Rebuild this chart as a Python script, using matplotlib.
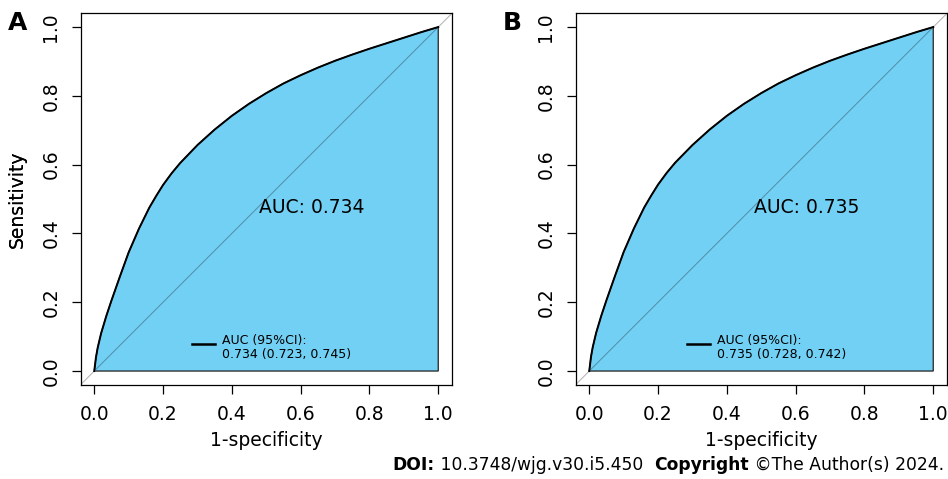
import numpy as np
import matplotlib
matplotlib.use("Agg")
import matplotlib.pyplot as plt

# ROC points (1-specificity, sensitivity)
fpr_a = [0, 0.005, 0.01, 0.02, 0.035, 0.05, 0.075, 0.10, 0.13, 0.16, 0.18, 0.20, 0.225, 0.25,
         0.30, 0.35, 0.40, 0.45, 0.50, 0.55, 0.60, 0.65, 0.70, 0.75, 0.80, 0.85, 0.90, 0.95, 1.0]
tpr_a = [0, 0.040, 0.068, 0.110, 0.160, 0.205, 0.276, 0.345, 0.414, 0.475, 0.509, 0.541, 0.575,
         0.605, 0.657, 0.702, 0.742, 0.777, 0.808, 0.836, 0.860, 0.882, 0.902, 0.920, 0.937,
         0.953, 0.969, 0.985, 1.0]

fpr_b = [0, 0.005, 0.01, 0.02, 0.035, 0.05, 0.075, 0.10, 0.13, 0.16, 0.18, 0.20, 0.225, 0.25,
         0.30, 0.35, 0.40, 0.45, 0.50, 0.55, 0.60, 0.65, 0.70, 0.75, 0.80, 0.85, 0.90, 0.95, 1.0]
tpr_b = [0, 0.041, 0.069, 0.111, 0.161, 0.206, 0.277, 0.346, 0.415, 0.476, 0.510, 0.542, 0.576,
         0.606, 0.657, 0.702, 0.742, 0.777, 0.808, 0.836, 0.860, 0.882, 0.902, 0.920, 0.937,
         0.953, 0.969, 0.985, 1.0]

panels = ["A", "B"]
auc_text = ["AUC: 0.734", "AUC: 0.735"]
ci_text = ["AUC (95%CI):\n0.734 (0.723, 0.745)", "AUC (95%CI):\n0.735 (0.728, 0.742)"]
ticks = [0.0, 0.2, 0.4, 0.6, 0.8, 1.0]
tick_labels = ["0.0", "0.2", "0.4", "0.6", "0.8", "1.0"]

fill_col = "#72D0F4"

W, H = 948, 479
fig = plt.figure(figsize=(W / 100, H / 100), dpi=100)

lefts = [80.5, 575.5]
box_w = 371.5
box_top = 13.3

for i, (fpr, tpr) in enumerate([(fpr_a, tpr_a), (fpr_b, tpr_b)]):
    ax = fig.add_axes([lefts[i] / W, (H - box_top - box_w) / H, box_w / W, box_w / H])
    ax.set_xlim(-0.04, 1.04)
    ax.set_ylim(-0.04, 1.04)

    # chance line: light grey overall, darker where it crosses the filled area
    ax.plot([-0.04, 1.04], [-0.04, 1.04], color="#b8b8b8", linewidth=0.8, zorder=0)
    px = list(fpr) + [1.0, 0.0]
    py = list(tpr) + [0.0, 0.0]
    ax.fill(px, py, facecolor=fill_col, edgecolor="#222222", linewidth=0.9, zorder=1)
    ax.plot([0, 1], [0, 1], color="#4f8ea8", linewidth=0.7, zorder=2)
    ax.plot(fpr, tpr, color="black", linewidth=1.4, zorder=3, solid_joinstyle="round")

    ax.text(0.48, 0.476, auc_text[i], fontsize=13.5, ha="left", va="center", zorder=4)

    # legend entry
    ax.plot([0.285, 0.352], [0.0785, 0.0785], color="black", linewidth=1.8, zorder=4)
    ax.text(0.372, 0.069, ci_text[i], fontsize=9, ha="left", va="center",
            linespacing=1.15, zorder=4)

    ax.set_xticks(ticks)
    ax.set_xticklabels(tick_labels)
    ax.set_yticks(ticks)
    ax.set_yticklabels(tick_labels)
    ax.tick_params(direction="out", length=6.5, width=0.9, labelsize=13.5, pad=8)
    ax.tick_params(axis="y", labelrotation=90)
    for lab in ax.get_yticklabels():
        lab.set_va("center")
    for s in ax.spines.values():
        s.set_linewidth(0.9)

    ax.set_xlabel("1-specificity", fontsize=13.5)
    ax.set_ylabel("Sensitivity", fontsize=13.5)
    ax.xaxis.set_label_coords(0.5, (384.8 - 441) / box_w)
    ax.xaxis.label.set_va("center")
    ax.yaxis.set_label_coords((17 - lefts[i]) / box_w, 0.5)
    ax.yaxis.label.set_va("center")

    fig.text((lefts[i] - 63) / W, 1 - 22.5 / H, panels[i], fontsize=18,
             fontweight="bold", ha="center", va="center")

# footer: bold/regular pieces chained from the right edge
pieces = [("DOI:", "bold"), (" 10.3748/wjg.v30.i5.450  ", "normal"),
          ("Copyright", "bold"), (" \u00a9The Author(s) 2024.", "normal")]
fig.canvas.draw()
r = fig.canvas.get_renderer()
x_right = 944
for txt, wt in reversed(pieces):
    t = fig.text(x_right / W, 1 - 470 / H, txt, fontsize=12.3, fontweight=wt,
                 ha="right", va="baseline")
    bb = t.get_window_extent(renderer=r)
    x_right = bb.x0

fig.savefig("out.png", dpi=100)
